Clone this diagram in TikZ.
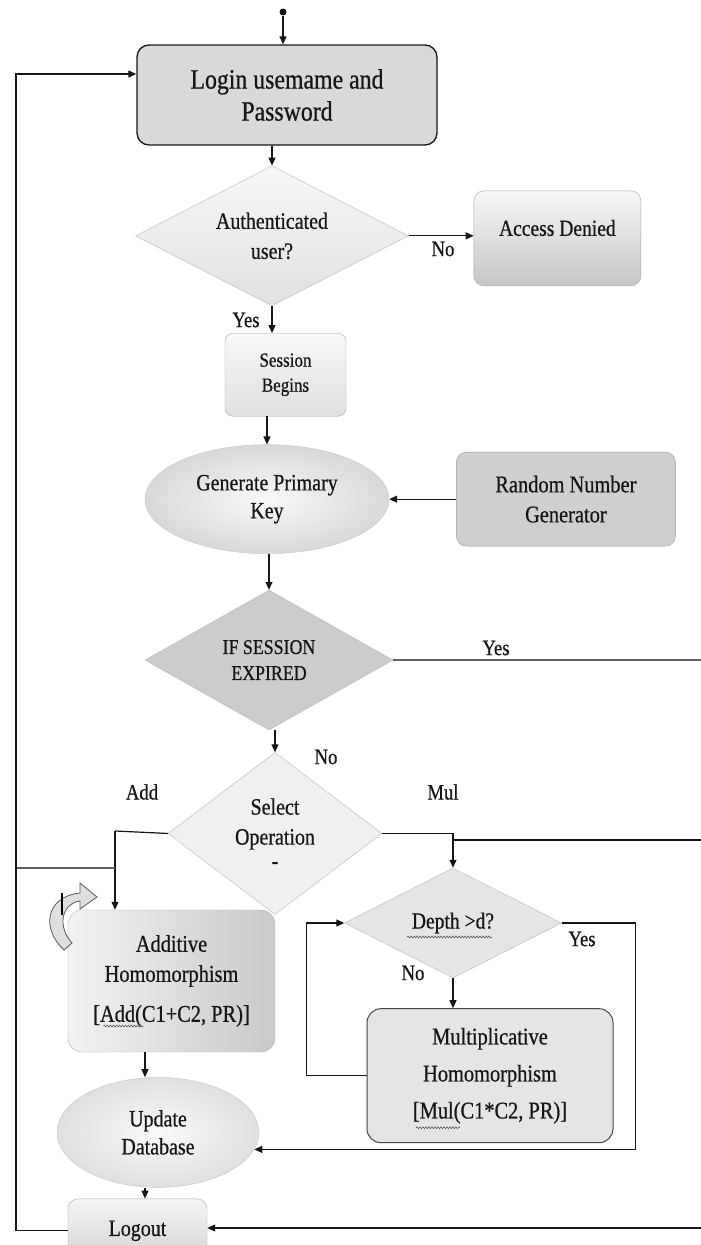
\documentclass[tikz,border=0pt]{standalone}
\usepackage{fontspec}
\setmainfont[FakeStretch=0.85,FakeBold=0.6]{Liberation Serif}
\usepackage{tikz}
\usetikzlibrary{arrows.meta,positioning,shapes.geometric,calc,decorations.pathmorphing}
\definecolor{ink}{HTML}{161616}
\definecolor{boxgray}{HTML}{D9D9D9}

\begin{document}
\begin{tikzpicture}[x=1pt,y=-1pt,
  every node/.style={text=ink},
  box/.style={draw=gray!70,rounded corners=10pt,inner sep=2pt,align=center},
  dia/.style={diamond,draw=gray!55,inner sep=0pt,aspect=2,align=center},
  oval/.style={ellipse,draw=gray!45,inner sep=0pt,align=center},
  arrow/.style={-{Triangle[length=8pt,width=7pt]},line width=1.2pt,draw=ink},
  link/.style={line width=1.2pt,draw=ink},
  dbl/.style={draw=gray!75!black,line width=2.6pt},
  squig/.style={draw=gray!60!black,line width=0.5pt,decorate,
                decoration={snake,amplitude=1pt,segment length=3pt}},
  lbl/.style={font=\fontsize{22}{24}\selectfont}]
  \useasboundingbox (0,0) rectangle (701,1245);
  \clip (0,0) rectangle (701,1245);
  % main column
  \node[circle,fill=ink,inner sep=0pt,minimum size=7pt] (start) at (283,12) {};
  \node[box,draw=ink,line width=1.3pt,rounded corners=12pt,fill=boxgray,
        minimum width=300pt,minimum height=100pt,font=\fontsize{28}{32}\selectfont]
        (login) at (287,95) {Login usemame and\\Password};
  \node[dia,top color=gray!6,bottom color=gray!24,minimum width=273pt,minimum height=140pt,
        font=\fontsize{23.5}{30}\selectfont,below=20pt of login,xshift=-15pt]
        (auth) {Authenticated\\user?};
  \node[box,top color=gray!6,bottom color=gray!45,minimum width=167pt,minimum height=95pt,
        font=\fontsize{23}{26}\selectfont,text height=16pt,text depth=21pt,
        right=65pt of auth,yshift=-2.5pt] (denied) {Access Denied};
  \node[box,rounded corners=8pt,top color=gray!5,bottom color=gray!25,minimum width=121pt,
        minimum height=83pt,font=\fontsize{20}{25}\selectfont,below=27pt of auth,xshift=13.5pt]
        (session) {Session\\Begins};
  \node[oval,shading=radial,inner color=gray!5,outer color=gray!30,minimum width=244pt,
        minimum height=109pt,font=\fontsize{23.5}{28}\selectfont,below=28pt of session,xshift=-18.5pt]
        (primkey) {Generate Primary\\Key};
  \node[box,draw=gray!80,fill=gray!38,minimum width=219pt,minimum height=94pt,
        font=\fontsize{24}{30}\selectfont,right=67pt of primkey] (rng) {Random Number\\Generator};
  \node[dia,fill=gray!40,minimum width=248pt,minimum height=140pt,font=\fontsize{21}{26}\selectfont,
        below=36pt of primkey,xshift=2pt] (expired) {IF SESSION\\EXPIRED};
  \node[dia,aspect=1.3,fill=gray!12,minimum width=214pt,minimum height=162pt,
        font=\fontsize{23.5}{30}\selectfont,below=22pt of expired,xshift=6pt]
        (selop) {Select\\Operation\\[-6pt]-};
  % the two operations
  \node[box,draw=gray!60,rounded corners=14pt,left color=gray!10,right color=gray!42,
        minimum width=207pt,minimum height=142pt,font=\fontsize{24}{30}\selectfont]
        (addhom) at (171.5,981) {Additive\\Homomorphism\\[10pt][Add(C1+C2, PR)]};
  \node[dia,fill=gray!20,minimum width=217pt,minimum height=110pt,font=\fontsize{23}{26}\selectfont]
        (depth) at (453,923) {Depth >d?};
  \node[box,draw=ink!80,line width=1pt,rounded corners=14pt,fill=gray!20,minimum width=246pt,
        minimum height=134pt,font=\fontsize{24}{37}\selectfont,below=30pt of depth,xshift=37pt]
        (mulhom) {Multiplicative\\Homomorphism\\\relax[Mul(C1*C2, PR)]};
  \node[oval,shading=radial,inner color=gray!4,outer color=gray!25,minimum width=202pt,
        minimum height=110pt,font=\fontsize{23.5}{28}\selectfont,below=25pt of addhom,xshift=-13.5pt]
        (update) {Update\\Database};
  \node[box,top color=gray!8,bottom color=gray!35,minimum width=139pt,minimum height=64pt,
        font=\fontsize{23.5}{26}\selectfont,below=11pt of update,xshift=-20.5pt] (logout) {Logout};
  % spell-check marks under words
  \draw[squig] ($(depth.center)+(-46,14)$) -- ($(depth.center)+(39,14)$);
  \draw[squig] ($(addhom.center)+(-68,45)$) -- ($(addhom.center)+(-28,45)$);
  \draw[squig] ($(mulhom.center)+(-74,52)$) -- ($(mulhom.center)+(-30,52)$);
  % turning points and lines leaving the page
  \coordinate (looptop) at (16,74);
  \coordinate (addturn) at (115,831);
  \coordinate (addjoin) at (115,868);
  \coordinate (edgeyes) at (701,667);
  \coordinate (edgemul) at (701,840);
  \coordinate (edgeout) at (701,1228);
  % connectors
  \draw[arrow] (start) -- (start |- login.north);
  \draw[arrow] (auth.north |- login.south) -- (auth.north);
  \draw[arrow] (auth.east) -- (auth.east -| denied.west);
  \draw[arrow] (auth.south) -- (auth.south |- session.north);
  \draw[arrow] (primkey.north |- session.south) -- (primkey.north);
  \draw[arrow] (rng.west) -- (primkey.east);
  \draw[arrow] (expired.north |- primkey.south) -- (expired.north);
  \draw[dbl] (expired.east) -- (expired.east -| edgeyes);
  \draw[arrow] (selop.north |- expired.south) -- (selop.north);
  \draw[link] (selop.west) -- (addturn);
  \draw[arrow] (addturn) -- (addturn |- addhom.north);
  \draw[dbl] (looptop |- addjoin) -- (addjoin);
  \draw[arrow] (selop.east) -| (depth.north);
  \draw[link] (edgemul) -- (edgemul -| depth.north);
  \draw[arrow] (depth.east) -- ++(74,0) |- (update.-10);
  \draw[arrow] (depth.south) -- (depth.south |- mulhom.north);
  \draw[arrow] (mulhom.west) -- ++(-60,0) |- (depth.west);
  \draw[arrow] ([xshift=-26.5pt]addhom.south) -- ([xshift=-26.5pt]addhom.south |- update.north);
  \draw[arrow] ([xshift=-13pt]update.south) -- ([xshift=-13pt]update.south |- logout.north);
  \draw[arrow] (logout.west) -| (looptop) -- (looptop -| login.west);
  \draw[arrow] (edgeout) -- (edgeout -| logout.east);
  % labels
  \node[lbl] (lno1) at (443,249) {No};
  \node[lbl] (lyes1) at (246,320) {Yes};
  \node[lbl] (lyes2) at (496,648) {Yes};
  \node[lbl] (lno2) at (326,757) {No};
  \node[lbl] (ladd) at (142,792) {Add};
  \node[lbl] (lmul) at (443,792) {Mul};
  \node[lbl] (lyes3) at (582,939) {Yes};
  \node[lbl] (lno3) at (413,973) {No};
  % curved arrow mark beside the additive box
  \draw[draw=gray!70!black,fill=gray!25,line width=0.8pt]
    (64,950) .. controls (42,930) and (44,897) .. (80,893) -- (80,883) -- (97,897)
    -- (80,909) -- (80,901) .. controls (60,904) and (58,928) .. (72,943) -- cycle;
  \draw[line width=1.2pt] (62,893) -- (62,915);
\end{tikzpicture}
\end{document}
